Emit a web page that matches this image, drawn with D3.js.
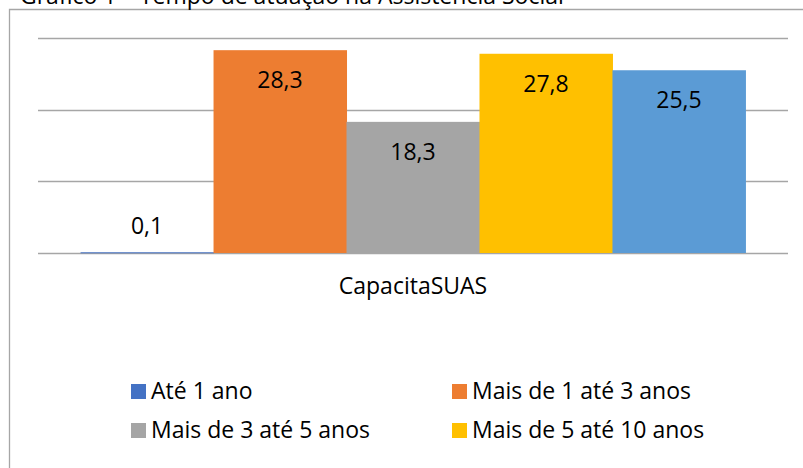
<!DOCTYPE html>
<html>
<head>
<meta charset="utf-8">
<script src="https://cdn.jsdelivr.net/npm/d3@7"></script>
<style>
  html, body { margin: 0; padding: 0; background: #fff; }
  svg { display: block; font-family: "Open Sans", "Noto Sans", sans-serif; }
</style>
</head>
<body>
<svg id="chart" width="803" height="468"></svg>
<script>
// ---- data ----
const title = "Gráfico 1 – Tempo de atuação na Assistência Social";
const categories = ["CapacitaSUAS"];
const seriesNames = ["Até 1 ano", "Mais de 1 até 3 anos", "Mais de 3 até 5 anos", "Mais de 5 até 10 anos", ""];
const seriesValues = [0.1, 28.3, 18.3, 27.8, 25.5];
const seriesColors = ["#4472C4", "#ED7D31", "#A5A5A5", "#FFC000", "#5B9BD5"];
const yTicks = [0, 10, 20, 30];
const legendNames = seriesNames.filter(d => d !== "");

// ---- layout ----
const svg = d3.select("#chart");
const W = 803, H = 468;
const plot = { left: 38, right: 788, top: 38, bottom: 253 };
const fontSize = 23;
const gridColor = "#a6a6a6";
const fmt = v => d3.format(".1f")(v).replace(".", ",");

// chart border (left + top visible)
svg.append("path")
  .attr("d", `M9.5,${H + 2} V9.5 H${W + 2}`)
  .attr("fill", "none")
  .attr("stroke", "#a6a6a6")
  .attr("stroke-width", 1.3);

// title (cropped at the top)
svg.append("text")
  .attr("x", 20)
  .attr("y", 4)
  .attr("font-size", fontSize)
  .attr("fill", "#000")
  .text(title);

const y = d3.scaleLinear().domain([0, 30]).range([plot.bottom, plot.top]);
const x0 = d3.scaleBand().domain(categories).range([plot.left, plot.right])
  .paddingInner(0).paddingOuter(0.064);
const x1 = d3.scaleBand().domain(d3.range(seriesValues.length))
  .range([0, x0.bandwidth()]).padding(0);

// gridlines
svg.append("g")
  .selectAll("line")
  .data(yTicks)
  .join("line")
  .attr("x1", plot.left).attr("x2", plot.right)
  .attr("y1", d => Math.round(y(d)) + 0.5)
  .attr("y2", d => Math.round(y(d)) + 0.5)
  .attr("stroke", gridColor)
  .attr("stroke-width", 1.5);

// bars
const group = svg.append("g")
  .selectAll("g")
  .data(categories)
  .join("g")
  .attr("transform", d => `translate(${x0(d)},0)`);

group.selectAll("rect")
  .data(seriesValues.map((v, i) => ({ v, i })))
  .join("rect")
  .attr("x", d => x1(d.i))
  .attr("width", x1.bandwidth() + 0.5)
  .attr("y", d => y(d.v))
  .attr("height", d => Math.max(1, y(0) - y(d.v)))
  .attr("fill", d => seriesColors[d.i]);

// value labels (inside end)
group.selectAll("text.val")
  .data(seriesValues.map((v, i) => ({ v, i })))
  .join("text")
  .attr("class", "val")
  .attr("x", d => x1(d.i) + x1.bandwidth() / 2)
  .attr("y", d => Math.min(y(d.v) + 38, y(0) - 19))
  .attr("text-anchor", "middle")
  .attr("font-size", fontSize)
  .attr("fill", "#000")
  .text(d => fmt(d.v));

// category axis label
svg.append("g")
  .selectAll("text")
  .data(categories)
  .join("text")
  .attr("x", d => x0(d) + x0.bandwidth() / 2)
  .attr("y", 294)
  .attr("text-anchor", "middle")
  .attr("font-size", fontSize)
  .attr("fill", "#000")
  .text(d => d);

// legend (2 columns)
const legendCols = [131, 452];
const legendRows = [399, 438];
const leg = svg.append("g")
  .selectAll("g")
  .data(legendNames)
  .join("g")
  .attr("transform", (d, i) => `translate(${legendCols[i % 2]},${legendRows[Math.floor(i / 2)]})`);

leg.append("rect")
  .attr("x", 0).attr("y", -15)
  .attr("width", 15).attr("height", 15)
  .attr("fill", (d, i) => seriesColors[i]);

leg.append("text")
  .attr("x", 20).attr("y", 0)
  .attr("font-size", fontSize)
  .attr("fill", "#000")
  .text(d => d);
</script>
</body>
</html>
